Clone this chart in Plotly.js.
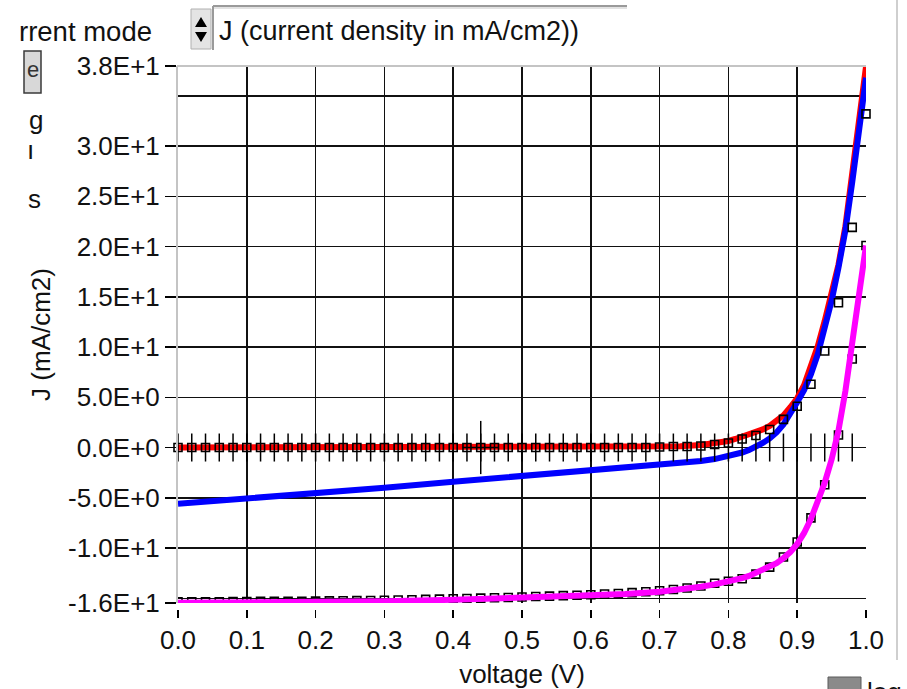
<!DOCTYPE html>
<html>
<head>
<meta charset="utf-8">
<script src="https://cdn.plot.ly/plotly-3.0.1.min.js"></script>
<style>html,body{margin:0;padding:0;background:#fff;}#chart{width:907px;height:689px;}</style>
</head>
<body>
<div id="chart"></div>
<script>
// ---------- data ----------
// fitted curves (voltage in V, J in mA/cm2)
const fitV = [0, 0.1, 0.2, 0.3, 0.4, 0.5, 0.6, 0.65, 0.7, 0.73, 0.76, 0.78, 0.8, 0.81, 0.82, 0.83, 0.84, 0.85, 0.86, 0.87, 0.88, 0.89, 0.9, 0.91, 0.92, 0.93, 0.94, 0.95, 0.96, 0.97, 0.98, 0.99, 1.0];
const redJ  = [0, 0, 0, 0, 0, 0.01, 0.02, 0.03, 0.06, 0.12, 0.25, 0.4, 0.65, 0.85, 1.05, 1.25, 1.5, 1.8, 2.15, 2.6, 3.2, 4.0, 4.9, 6.2, 8.0, 10.1, 12.6, 15.2, 18.2, 22.0, 27.0, 32.3, 37.9];
const blueJ = [-5.6, -5.1, -4.6, -4.0, -3.4, -2.85, -2.35, -2.05, -1.8, -1.6, -1.35, -1.15, -0.9, -0.72, -0.5, -0.25, 0.05, 0.45, 0.9, 1.5, 2.3, 3.3, 4.5, 5.7, 7.3, 9.3, 11.8, 14.6, 17.9, 21.6, 26.4, 31.6, 36.8];
const pinkJ = [-15.45, -15.42, -15.38, -15.3, -15.15, -14.98, -14.75, -14.58, -14.35, -14.15, -13.85, -13.62, -13.35, -13.2, -13.0, -12.78, -12.5, -12.2, -11.9, -11.5, -11.0, -10.4, -9.6, -8.5, -7.1, -5.4, -3.5, -1.2, 1.7, 5.6, 10.5, 15.0, 20.1];

// measured points (square markers)
const measV = [0, 0.02, 0.04, 0.06, 0.08, 0.1, 0.12, 0.14, 0.16, 0.18, 0.2, 0.22, 0.24, 0.26, 0.28, 0.3, 0.32, 0.34, 0.36, 0.38, 0.4, 0.42, 0.44, 0.46, 0.48, 0.5, 0.52, 0.54, 0.56, 0.58, 0.6, 0.62, 0.64, 0.66, 0.68, 0.7, 0.72, 0.74, 0.76, 0.78, 0.8, 0.82, 0.84, 0.86, 0.88, 0.9, 0.92, 0.94, 0.96, 0.98, 1.0];
const darkMeasJ = [0, 0, 0, 0, 0, 0, 0, 0, 0, 0, 0, 0, 0, 0, 0, 0, 0, 0, 0, 0, 0, 0, 0, 0, 0, 0, 0, 0, 0, 0, 0, 0, 0, 0, 0, 0.05, 0.1, 0.1, 0.15, 0.3, 0.45, 0.85, 1.2, 1.8, 2.8, 4.1, 6.3, 9.6, 14.4, 21.9, 33.2];
const lightMeasJ = [-15.35, -15.35, -15.34, -15.34, -15.33, -15.32, -15.31, -15.3, -15.3, -15.29, -15.28, -15.26, -15.25, -15.23, -15.22, -15.2, -15.17, -15.14, -15.11, -15.08, -15.05, -15.02, -14.98, -14.95, -14.92, -14.88, -14.83, -14.79, -14.74, -14.7, -14.65, -14.58, -14.52, -14.44, -14.35, -14.25, -14.12, -13.98, -13.78, -13.5, -13.3, -13.05, -12.6, -11.9, -10.9, -9.4, -7.0, -3.7, 1.25, 8.8, 20.1];

// tick-mark series along J = 0
const tickV = [0, 0.02, 0.04, 0.06, 0.08, 0.1, 0.12, 0.14, 0.16, 0.18, 0.2, 0.22, 0.24, 0.26, 0.28, 0.3, 0.32, 0.34, 0.36, 0.38, 0.4, 0.42, 0.44, 0.46, 0.48, 0.5, 0.52, 0.54, 0.56, 0.58, 0.6, 0.62, 0.64, 0.66, 0.68, 0.7, 0.72, 0.74, 0.76, 0.78, 0.8, 0.82, 0.84, 0.86, 0.88, 0.9, 0.92, 0.94, 0.96, 0.98];
const tickJ = [0, 0, 0, 0, 0, 0, 0, 0, 0, 0, 0, 0, 0, 0, 0, 0, 0, 0, 0, 0, 0, 0, 0, 0, 0, 0, 0, 0, 0, 0, 0, 0, 0, 0, 0, 0, 0, 0, 0, 0, 0, 0, 0, 0, 0, 0, 0, 0, 0, 0];
const cursorV = [0.44];
const cursorJ = [0];

// axis ticks
const xTickVals = [0, 0.1, 0.2, 0.3, 0.4, 0.5, 0.6, 0.7, 0.8, 0.9, 1.0];
const xTickText = ['0.0', '0.1', '0.2', '0.3', '0.4', '0.5', '0.6', '0.7', '0.8', '0.9', '1.0'];
const xGridVals = [0.1, 0.2, 0.3, 0.4, 0.5, 0.6, 0.7, 0.8, 0.9];
const yMin = -15.47, yMax = 37.96;
const yTickVals = [yMin, -10, -5, 0, 5, 10, 15, 20, 25, 30, yMax];
const yTickText = ['-1.6E+1', '-1.0E+1', '-5.0E+0', '0.0E+0', '5.0E+0', '1.0E+1', '1.5E+1', '2.0E+1', '2.5E+1', '3.0E+1', '3.8E+1'];
const yGridVals = [-15, -10, -5, 0, 5, 10, 15, 20, 25, 30, 35];

// ---------- layout helpers (page pixels -> paper) ----------
const PL = 178, PR = 866, PT = 66, PB = 609;
const fx = p => (p - PL) / (PR - PL);
const fy = p => (PB - p) / (PB - PT);
const FONT = '"Liberation Sans", Arial, sans-serif';
const TXT = '#111';

const traces = [
  {x: fitV, y: redJ, mode: 'lines', line: {color: '#ff0000', width: 6}, hoverinfo: 'skip'},
  {x: fitV, y: blueJ, mode: 'lines', line: {color: '#0000ff', width: 6}, hoverinfo: 'skip'},
  {x: measV, y: darkMeasJ, mode: 'markers', marker: {symbol: 'square-open', size: 8, color: '#000', line: {width: 1.6}}, cliponaxis: false},
  {x: tickV, y: tickJ, mode: 'markers', marker: {symbol: 'line-ns', size: 20, line: {color: '#000', width: 1.5}}},
  {x: cursorV, y: cursorJ, mode: 'markers', marker: {symbol: 'line-ns', size: 38, line: {color: '#000', width: 1.5}},
   error_x: {type: 'constant', value: 0.026, width: 0, thickness: 1.5, color: '#000'}},
  {x: measV, y: lightMeasJ, mode: 'markers', marker: {symbol: 'square-open', size: 8, color: '#000', line: {width: 1.6}}},
  {x: fitV, y: pinkJ, mode: 'lines', line: {color: '#ff00ff', width: 6}, hoverinfo: 'skip'}
];

const shapes = [
  // plot frame (top grey)
  {type: 'line', xref: 'paper', yref: 'paper', x0: fx(177), x1: fx(866), y0: fy(66), y1: fy(66), line: {color: '#c4c4c4', width: 2}, layer: 'above'},
  // right panel border
  {type: 'line', xref: 'paper', yref: 'paper', x0: fx(897), x1: fx(897), y0: fy(0), y1: fy(660), line: {color: '#cfcfcf', width: 2}},
  // text box border
  {type: 'line', xref: 'paper', yref: 'paper', x0: fx(213), x1: fx(627), y0: fy(6), y1: fy(6), line: {color: '#9a9a9a', width: 2}},
  {type: 'line', xref: 'paper', yref: 'paper', x0: fx(213), x1: fx(627), y0: fy(8), y1: fy(8), line: {color: '#e2e2e2', width: 2}},
  {type: 'line', xref: 'paper', yref: 'paper', x0: fx(213), x1: fx(213), y0: fy(6), y1: fy(50), line: {color: '#9a9a9a', width: 2}},
  // spin control
  {type: 'rect', xref: 'paper', yref: 'paper', x0: fx(191), x1: fx(211), y0: fy(9), y1: fy(49), fillcolor: '#e4e4e4', line: {color: '#b0b0b0', width: 1}},
  {type: 'path', xref: 'paper', yref: 'paper', path: `M ${fx(195)} ${fy(27)} L ${fx(207)} ${fy(27)} L ${fx(201)} ${fy(17)} Z`, fillcolor: '#000', line: {width: 0}},
  {type: 'path', xref: 'paper', yref: 'paper', path: `M ${fx(195)} ${fy(32)} L ${fx(207)} ${fy(32)} L ${fx(201)} ${fy(42)} Z`, fillcolor: '#000', line: {width: 0}},
  // small button at the left
  {type: 'rect', xref: 'paper', yref: 'paper', x0: fx(24), x1: fx(41), y0: fy(51), y1: fy(93), fillcolor: '#d8d8d8', line: {color: '#3a3a3a', width: 1.5}},
  // grey box bottom right
  {type: 'rect', xref: 'paper', yref: 'paper', x0: fx(828), x1: fx(861), y0: fy(677), y1: fy(695), fillcolor: '#8a8a8a', line: {color: '#5a5a5a', width: 1}}
];

const annotations = [
  {text: 'rrent mode', xref: 'paper', yref: 'paper', x: fx(17), y: fy(31), xanchor: 'left', yanchor: 'middle', showarrow: false, font: {size: 27.5, color: TXT}},
  {text: 'J (current density in mA/cm2))', xref: 'paper', yref: 'paper', x: fx(217), y: fy(31), xanchor: 'left', yanchor: 'middle', showarrow: false, font: {size: 27, color: TXT}},
  {text: 'e', xref: 'paper', yref: 'paper', x: fx(33), y: fy(70), xanchor: 'center', yanchor: 'middle', showarrow: false, font: {size: 22, color: '#333'}},
  {text: 'g', xref: 'paper', yref: 'paper', x: fx(36), y: fy(120), xanchor: 'center', yanchor: 'middle', showarrow: false, font: {size: 26, color: TXT}},
  {text: 'ı', xref: 'paper', yref: 'paper', x: fx(30), y: fy(150), xanchor: 'center', yanchor: 'middle', showarrow: false, font: {size: 26, color: TXT}},
  {text: 's', xref: 'paper', yref: 'paper', x: fx(34), y: fy(199), xanchor: 'center', yanchor: 'middle', showarrow: false, font: {size: 26, color: TXT}},
  {text: 'log', xref: 'paper', yref: 'paper', x: fx(865), y: fy(692), xanchor: 'left', yanchor: 'middle', showarrow: false, font: {size: 26, color: TXT}}
];

const layout = {
  width: 907, height: 689,
  margin: {l: PL, r: 907 - PR, t: PT, b: 689 - PB, pad: 0},
  paper_bgcolor: '#ffffff', plot_bgcolor: '#ffffff',
  showlegend: false,
  font: {family: FONT, size: 26, color: TXT},
  xaxis: {
    range: [0, 1], anchor: 'free', position: 0,
    tickmode: 'array', tickvals: xTickVals, ticktext: xTickText,
    ticks: 'outside', ticklen: 8, tickwidth: 1.5, tickcolor: '#000',
    tickfont: {size: 26, color: TXT},
    showgrid: false, zeroline: false, showline: false,
    minor: {tickmode: 'array', tickvals: xGridVals, showgrid: true, gridcolor: '#111', gridwidth: 1.5, ticks: ''},
    title: {text: 'voltage (V)', font: {size: 26, color: TXT}, standoff: 12}
  },
  yaxis: {
    range: [yMin, yMax], domain: [fy(603), 1],
    automargin: true,
    tickmode: 'array', tickvals: yTickVals, ticktext: yTickText,
    ticks: 'outside', ticklen: 11, tickwidth: 1.5, tickcolor: '#000',
    tickfont: {size: 26, color: TXT}, ticklabelstandoff: 0,
    showgrid: false, zeroline: false,
    showline: true, linecolor: '#c4c4c4', linewidth: 2,
    minor: {tickmode: 'array', tickvals: yGridVals, showgrid: true, gridcolor: '#111', gridwidth: 1.5, ticks: ''},
    title: {text: 'J (mA/cm2)', font: {size: 26, color: TXT}, standoff: 10}
  },
  shapes: shapes,
  annotations: annotations
};

Plotly.newPlot('chart', traces, layout, {staticPlot: true, displayModeBar: false});
</script>
</body>
</html>
